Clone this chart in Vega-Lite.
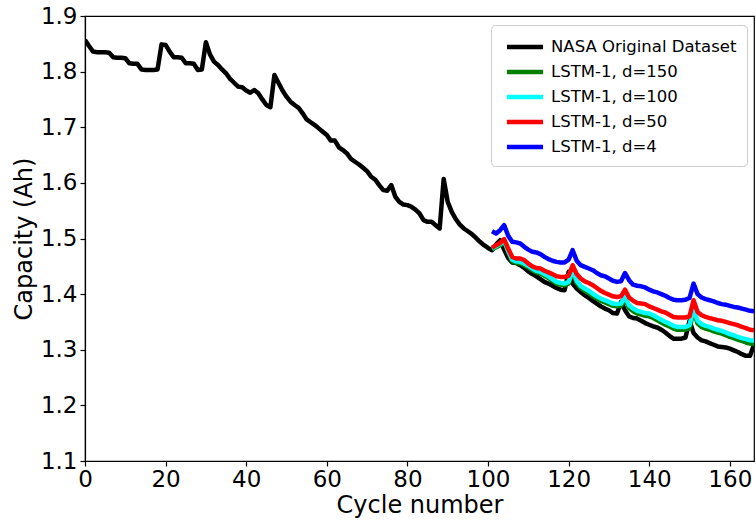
{
  "$schema": "https://vega.github.io/schema/vega-lite/v6.json",
  "width": 669,
  "height": 445,
  "autosize": "none",
  "padding": {"left": 85, "top": 16, "right": 2, "bottom": 62},
  "background": "white",
  "config": {
    "font": "DejaVu Sans",
    "view": {"stroke": "black", "strokeWidth": 1.2},
    "axis": {
      "grid": false,
      "domainColor": "black",
      "domainWidth": 1.2,
      "tickColor": "black",
      "tickWidth": 1.2,
      "tickSize": 5,
      "labelFont": "DejaVu Sans",
      "labelFontSize": 23,
      "labelColor": "black",
      "labelFlush": false,
      "labelOverlap": false,
      "titleFont": "DejaVu Sans",
      "titleFontSize": 24,
      "titleFontWeight": "normal",
      "titleColor": "black"
    },
    "legend": {
      "orient": "none",
      "legendX": 406,
      "legendY": 9,
      "fillColor": "rgba(255,255,255,0.8)",
      "strokeColor": "#cccccc",
      "cornerRadius": 4,
      "padding": 10,
      "symbolType": "M-1.9,0H1.9",
      "symbolSize": 361,
      "symbolStrokeWidth": 4.5,
      "labelFont": "DejaVu Sans",
      "labelFontSize": 16.5,
      "labelColor": "black",
      "labelLimit": 0,
      "rowPadding": 4,
      "symbolOffset": 12,
      "labelOffset": 14
    }
  },
  "data": {
    "values": [
      {"cycle": 0, "nasa": 1.857}, {"cycle": 1, "nasa": 1.846}, {"cycle": 2, "nasa": 1.836}, {"cycle": 3, "nasa": 1.835},
      {"cycle": 4, "nasa": 1.835}, {"cycle": 5, "nasa": 1.835}, {"cycle": 6, "nasa": 1.834}, {"cycle": 7, "nasa": 1.826},
      {"cycle": 8, "nasa": 1.825}, {"cycle": 9, "nasa": 1.825}, {"cycle": 10, "nasa": 1.824}, {"cycle": 11, "nasa": 1.815},
      {"cycle": 12, "nasa": 1.814}, {"cycle": 13, "nasa": 1.814}, {"cycle": 14, "nasa": 1.804}, {"cycle": 15, "nasa": 1.803},
      {"cycle": 16, "nasa": 1.803}, {"cycle": 17, "nasa": 1.803}, {"cycle": 18, "nasa": 1.804}, {"cycle": 19, "nasa": 1.849},
      {"cycle": 20, "nasa": 1.848}, {"cycle": 21, "nasa": 1.836}, {"cycle": 22, "nasa": 1.826}, {"cycle": 23, "nasa": 1.826},
      {"cycle": 24, "nasa": 1.825}, {"cycle": 25, "nasa": 1.815}, {"cycle": 26, "nasa": 1.815}, {"cycle": 27, "nasa": 1.814},
      {"cycle": 28, "nasa": 1.803}, {"cycle": 29, "nasa": 1.804}, {"cycle": 30, "nasa": 1.853}, {"cycle": 31, "nasa": 1.831},
      {"cycle": 32, "nasa": 1.818}, {"cycle": 33, "nasa": 1.812}, {"cycle": 34, "nasa": 1.804}, {"cycle": 35, "nasa": 1.797},
      {"cycle": 36, "nasa": 1.787}, {"cycle": 37, "nasa": 1.780}, {"cycle": 38, "nasa": 1.773}, {"cycle": 39, "nasa": 1.772},
      {"cycle": 40, "nasa": 1.766}, {"cycle": 41, "nasa": 1.762}, {"cycle": 42, "nasa": 1.767}, {"cycle": 43, "nasa": 1.761},
      {"cycle": 44, "nasa": 1.750}, {"cycle": 45, "nasa": 1.740}, {"cycle": 46, "nasa": 1.736}, {"cycle": 47, "nasa": 1.794},
      {"cycle": 48, "nasa": 1.780}, {"cycle": 49, "nasa": 1.766}, {"cycle": 50, "nasa": 1.755}, {"cycle": 51, "nasa": 1.746},
      {"cycle": 52, "nasa": 1.740}, {"cycle": 53, "nasa": 1.735}, {"cycle": 54, "nasa": 1.725}, {"cycle": 55, "nasa": 1.714},
      {"cycle": 56, "nasa": 1.709}, {"cycle": 57, "nasa": 1.704}, {"cycle": 58, "nasa": 1.698}, {"cycle": 59, "nasa": 1.692},
      {"cycle": 60, "nasa": 1.686}, {"cycle": 61, "nasa": 1.676}, {"cycle": 62, "nasa": 1.676}, {"cycle": 63, "nasa": 1.664},
      {"cycle": 64, "nasa": 1.659}, {"cycle": 65, "nasa": 1.653}, {"cycle": 66, "nasa": 1.643}, {"cycle": 67, "nasa": 1.638},
      {"cycle": 68, "nasa": 1.633}, {"cycle": 69, "nasa": 1.627}, {"cycle": 70, "nasa": 1.621}, {"cycle": 71, "nasa": 1.611},
      {"cycle": 72, "nasa": 1.606}, {"cycle": 73, "nasa": 1.596}, {"cycle": 74, "nasa": 1.587}, {"cycle": 75, "nasa": 1.586},
      {"cycle": 76, "nasa": 1.596}, {"cycle": 77, "nasa": 1.575}, {"cycle": 78, "nasa": 1.566}, {"cycle": 79, "nasa": 1.561},
      {"cycle": 80, "nasa": 1.560}, {"cycle": 81, "nasa": 1.557}, {"cycle": 82, "nasa": 1.552}, {"cycle": 83, "nasa": 1.545},
      {"cycle": 84, "nasa": 1.533}, {"cycle": 85, "nasa": 1.530}, {"cycle": 86, "nasa": 1.530}, {"cycle": 87, "nasa": 1.524},
      {"cycle": 88, "nasa": 1.518}, {"cycle": 89, "nasa": 1.607}, {"cycle": 90, "nasa": 1.566}, {"cycle": 91, "nasa": 1.548},
      {"cycle": 92, "nasa": 1.535}, {"cycle": 93, "nasa": 1.525}, {"cycle": 94, "nasa": 1.518}, {"cycle": 95, "nasa": 1.513},
      {"cycle": 96, "nasa": 1.508}, {"cycle": 97, "nasa": 1.501}, {"cycle": 98, "nasa": 1.494}, {"cycle": 99, "nasa": 1.488},
      {"cycle": 100, "nasa": 1.483},
      {"cycle": 101, "nasa": 1.479, "d150": 1.480, "d100": 1.482, "d50": 1.483, "d4": 1.513},
      {"cycle": 102, "nasa": 1.489, "d150": 1.484, "d100": 1.486, "d50": 1.488, "d4": 1.509},
      {"cycle": 103, "nasa": 1.497, "d150": 1.488, "d100": 1.490, "d50": 1.492, "d4": 1.515},
      {"cycle": 104, "nasa": 1.480, "d150": 1.494, "d100": 1.496, "d50": 1.499, "d4": 1.524},
      {"cycle": 105, "nasa": 1.465, "d150": 1.476, "d100": 1.478, "d50": 1.482, "d4": 1.505},
      {"cycle": 106, "nasa": 1.457, "d150": 1.459, "d100": 1.462, "d50": 1.467, "d4": 1.494},
      {"cycle": 107, "nasa": 1.456, "d150": 1.456, "d100": 1.459, "d50": 1.464, "d4": 1.493},
      {"cycle": 108, "nasa": 1.452, "d150": 1.455, "d100": 1.458, "d50": 1.464, "d4": 1.491},
      {"cycle": 109, "nasa": 1.447, "d150": 1.452, "d100": 1.455, "d50": 1.461, "d4": 1.485},
      {"cycle": 110, "nasa": 1.441, "d150": 1.448, "d100": 1.451, "d50": 1.455, "d4": 1.480},
      {"cycle": 111, "nasa": 1.436, "d150": 1.443, "d100": 1.446, "d50": 1.450, "d4": 1.476},
      {"cycle": 112, "nasa": 1.432, "d150": 1.439, "d100": 1.442, "d50": 1.447, "d4": 1.475},
      {"cycle": 113, "nasa": 1.427, "d150": 1.437, "d100": 1.440, "d50": 1.446, "d4": 1.472},
      {"cycle": 114, "nasa": 1.422, "d150": 1.433, "d100": 1.436, "d50": 1.442, "d4": 1.467},
      {"cycle": 115, "nasa": 1.419, "d150": 1.429, "d100": 1.432, "d50": 1.439, "d4": 1.463},
      {"cycle": 116, "nasa": 1.415, "d150": 1.424, "d100": 1.427, "d50": 1.436, "d4": 1.460},
      {"cycle": 117, "nasa": 1.411, "d150": 1.419, "d100": 1.422, "d50": 1.432, "d4": 1.458},
      {"cycle": 118, "nasa": 1.408, "d150": 1.417, "d100": 1.420, "d50": 1.431, "d4": 1.457},
      {"cycle": 119, "nasa": 1.407, "d150": 1.416, "d100": 1.419, "d50": 1.431, "d4": 1.457},
      {"cycle": 120, "nasa": 1.440, "d150": 1.419, "d100": 1.422, "d50": 1.433, "d4": 1.462},
      {"cycle": 121, "nasa": 1.419, "d150": 1.441, "d100": 1.444, "d50": 1.452, "d4": 1.479},
      {"cycle": 122, "nasa": 1.410, "d150": 1.420, "d100": 1.424, "d50": 1.436, "d4": 1.460},
      {"cycle": 123, "nasa": 1.404, "d150": 1.411, "d100": 1.415, "d50": 1.428, "d4": 1.452},
      {"cycle": 124, "nasa": 1.398, "d150": 1.406, "d100": 1.410, "d50": 1.423, "d4": 1.449},
      {"cycle": 125, "nasa": 1.393, "d150": 1.402, "d100": 1.406, "d50": 1.420, "d4": 1.446},
      {"cycle": 126, "nasa": 1.388, "d150": 1.397, "d100": 1.401, "d50": 1.416, "d4": 1.443},
      {"cycle": 127, "nasa": 1.383, "d150": 1.392, "d100": 1.396, "d50": 1.411, "d4": 1.438},
      {"cycle": 128, "nasa": 1.378, "d150": 1.388, "d100": 1.392, "d50": 1.406, "d4": 1.434},
      {"cycle": 129, "nasa": 1.374, "d150": 1.385, "d100": 1.389, "d50": 1.402, "d4": 1.432},
      {"cycle": 130, "nasa": 1.371, "d150": 1.382, "d100": 1.386, "d50": 1.399, "d4": 1.428},
      {"cycle": 131, "nasa": 1.366, "d150": 1.379, "d100": 1.383, "d50": 1.396, "d4": 1.424},
      {"cycle": 132, "nasa": 1.365, "d150": 1.378, "d100": 1.382, "d50": 1.395, "d4": 1.422},
      {"cycle": 133, "nasa": 1.386, "d150": 1.379, "d100": 1.383, "d50": 1.396, "d4": 1.423},
      {"cycle": 134, "nasa": 1.371, "d150": 1.391, "d100": 1.395, "d50": 1.408, "d4": 1.438},
      {"cycle": 135, "nasa": 1.360, "d150": 1.375, "d100": 1.380, "d50": 1.394, "d4": 1.425},
      {"cycle": 136, "nasa": 1.357, "d150": 1.369, "d100": 1.374, "d50": 1.388, "d4": 1.417},
      {"cycle": 137, "nasa": 1.356, "d150": 1.365, "d100": 1.370, "d50": 1.384, "d4": 1.415},
      {"cycle": 138, "nasa": 1.352, "d150": 1.363, "d100": 1.368, "d50": 1.383, "d4": 1.414},
      {"cycle": 139, "nasa": 1.348, "d150": 1.361, "d100": 1.366, "d50": 1.382, "d4": 1.412},
      {"cycle": 140, "nasa": 1.345, "d150": 1.360, "d100": 1.365, "d50": 1.378, "d4": 1.408},
      {"cycle": 141, "nasa": 1.342, "d150": 1.357, "d100": 1.362, "d50": 1.375, "d4": 1.405},
      {"cycle": 142, "nasa": 1.340, "d150": 1.353, "d100": 1.358, "d50": 1.372, "d4": 1.403},
      {"cycle": 143, "nasa": 1.336, "d150": 1.349, "d100": 1.354, "d50": 1.369, "d4": 1.400},
      {"cycle": 144, "nasa": 1.331, "d150": 1.345, "d100": 1.350, "d50": 1.367, "d4": 1.397},
      {"cycle": 145, "nasa": 1.325, "d150": 1.342, "d100": 1.347, "d50": 1.363, "d4": 1.393},
      {"cycle": 146, "nasa": 1.320, "d150": 1.338, "d100": 1.343, "d50": 1.359, "d4": 1.390},
      {"cycle": 147, "nasa": 1.320, "d150": 1.336, "d100": 1.341, "d50": 1.358, "d4": 1.389},
      {"cycle": 148, "nasa": 1.320, "d150": 1.336, "d100": 1.341, "d50": 1.358, "d4": 1.389},
      {"cycle": 149, "nasa": 1.322, "d150": 1.336, "d100": 1.341, "d50": 1.358, "d4": 1.390},
      {"cycle": 150, "nasa": 1.352, "d150": 1.339, "d100": 1.344, "d50": 1.360, "d4": 1.393},
      {"cycle": 151, "nasa": 1.330, "d150": 1.369, "d100": 1.374, "d50": 1.389, "d4": 1.419},
      {"cycle": 152, "nasa": 1.322, "d150": 1.347, "d100": 1.352, "d50": 1.368, "d4": 1.400},
      {"cycle": 153, "nasa": 1.317, "d150": 1.341, "d100": 1.346, "d50": 1.362, "d4": 1.394},
      {"cycle": 154, "nasa": 1.315, "d150": 1.338, "d100": 1.343, "d50": 1.359, "d4": 1.391},
      {"cycle": 155, "nasa": 1.312, "d150": 1.336, "d100": 1.341, "d50": 1.357, "d4": 1.389},
      {"cycle": 156, "nasa": 1.309, "d150": 1.333, "d100": 1.338, "d50": 1.355, "d4": 1.387},
      {"cycle": 157, "nasa": 1.306, "d150": 1.331, "d100": 1.336, "d50": 1.353, "d4": 1.384},
      {"cycle": 158, "nasa": 1.305, "d150": 1.329, "d100": 1.334, "d50": 1.352, "d4": 1.382},
      {"cycle": 159, "nasa": 1.304, "d150": 1.326, "d100": 1.331, "d50": 1.350, "d4": 1.381},
      {"cycle": 160, "nasa": 1.302, "d150": 1.323, "d100": 1.328, "d50": 1.348, "d4": 1.379},
      {"cycle": 161, "nasa": 1.299, "d150": 1.321, "d100": 1.326, "d50": 1.346, "d4": 1.377},
      {"cycle": 162, "nasa": 1.296, "d150": 1.318, "d100": 1.323, "d50": 1.344, "d4": 1.376},
      {"cycle": 163, "nasa": 1.292, "d150": 1.316, "d100": 1.321, "d50": 1.341, "d4": 1.374},
      {"cycle": 164, "nasa": 1.289, "d150": 1.313, "d100": 1.319, "d50": 1.339, "d4": 1.372},
      {"cycle": 165, "nasa": 1.289, "d150": 1.311, "d100": 1.317, "d50": 1.336, "d4": 1.370},
      {"cycle": 166, "nasa": 1.309, "d150": 1.310, "d100": 1.316, "d50": 1.335, "d4": 1.369}
    ]
  },
  "transform": [
    {"fold": ["nasa", "d150", "d100", "d50", "d4"], "as": ["series", "capacity"]},
    {"filter": "isValid(datum.capacity)"}
  ],
  "encoding": {
    "x": {
      "field": "cycle",
      "type": "quantitative",
      "scale": {"domain": [0, 166], "nice": false, "zero": false},
      "axis": {"values": [0, 20, 40, 60, 80, 100, 120, 140, 160], "title": "Cycle number", "labelPadding": 2, "titlePadding": 2}
    },
    "y": {
      "field": "capacity",
      "type": "quantitative",
      "scale": {"domain": [1.1, 1.9], "nice": false, "zero": false},
      "axis": {"values": [1.1, 1.2, 1.3, 1.4, 1.5, 1.6, 1.7, 1.8, 1.9], "format": ".1f", "title": "Capacity (Ah)", "labelPadding": 3, "titlePadding": 4}
    },
    "color": {
      "field": "series",
      "type": "nominal",
      "scale": {"domain": ["nasa", "d150", "d100", "d50", "d4"], "range": ["#000000", "#008000", "#00ffff", "#ff0000", "#0000ff"]},
      "legend": {
        "title": null,
        "labelExpr": "{'nasa': 'NASA Original Dataset', 'd150': 'LSTM-1, d=150', 'd100': 'LSTM-1, d=100', 'd50': 'LSTM-1, d=50', 'd4': 'LSTM-1, d=4'}[datum.label]"
      }
    }
  },
  "layer": [
    {"transform": [{"filter": "datum.series == 'nasa'"}], "mark": {"type": "line", "strokeWidth": 4.5, "strokeJoin": "round", "clip": true}},
    {"transform": [{"filter": "datum.series == 'd150'"}], "mark": {"type": "line", "strokeWidth": 4.5, "strokeJoin": "round", "clip": true}},
    {"transform": [{"filter": "datum.series == 'd100'"}], "mark": {"type": "line", "strokeWidth": 4.5, "strokeJoin": "round", "clip": true}},
    {"transform": [{"filter": "datum.series == 'd50'"}], "mark": {"type": "line", "strokeWidth": 4.5, "strokeJoin": "round", "clip": true}},
    {"transform": [{"filter": "datum.series == 'd4'"}], "mark": {"type": "line", "strokeWidth": 4.5, "strokeJoin": "round", "clip": true}}
  ]
}
